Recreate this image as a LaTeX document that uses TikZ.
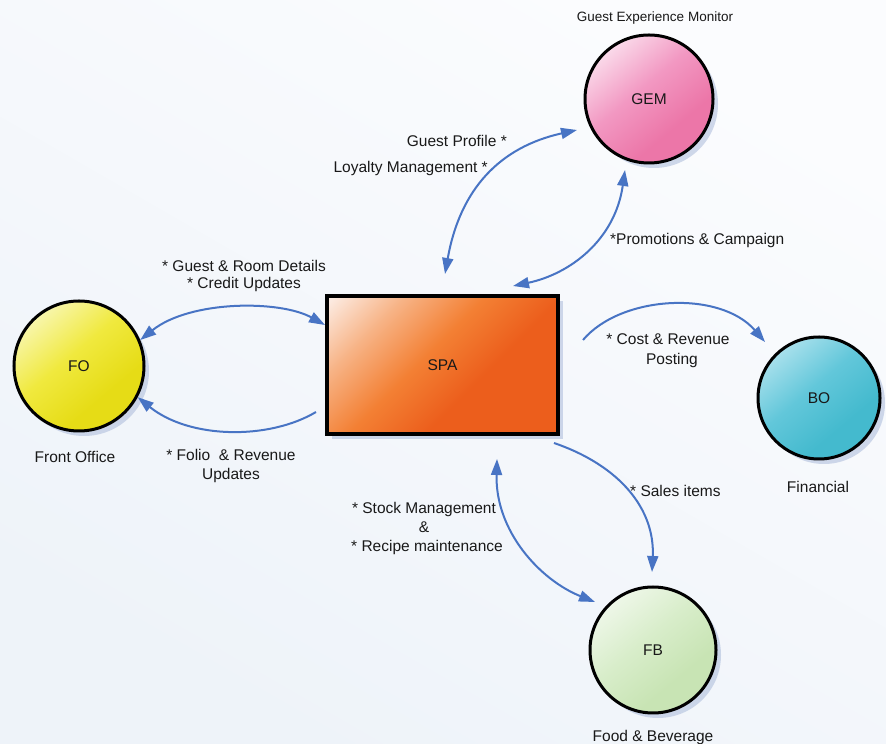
\documentclass[tikz,border=0pt]{standalone}
\usepackage{fontspec}
\setmainfont{Liberation Sans}
\usetikzlibrary{arrows.meta,shadows}
\definecolor{arrowblue}{RGB}{72,116,196}
\definecolor{txt}{RGB}{25,25,25}
\definecolor{bgtop}{RGB}{251,252,254}
\definecolor{bgbot}{RGB}{238,243,249}
\definecolor{shadowc}{RGB}{170,186,218}
\definecolor{gemD}{RGB}{236,118,168}
\definecolor{gemM}{RGB}{242,152,194}
\definecolor{gemL}{RGB}{250,218,234}
\definecolor{foD}{RGB}{230,220,22}
\definecolor{foM}{RGB}{240,233,62}
\definecolor{foL}{RGB}{248,246,172}
\definecolor{boD}{RGB}{68,186,206}
\definecolor{boM}{RGB}{98,199,218}
\definecolor{boL}{RGB}{168,224,236}
\definecolor{fbD}{RGB}{200,228,180}
\definecolor{fbM}{RGB}{216,237,202}
\definecolor{fbL}{RGB}{238,247,232}
\definecolor{spaD}{RGB}{236,94,28}
\definecolor{spaM}{RGB}{243,128,52}
\definecolor{spaL}{RGB}{247,178,132}
\definecolor{spaW}{RGB}{252,234,224}
\pgfdeclareverticalshading{gemsh}{100bp}{color(0bp)=(gemD); color(35bp)=(gemD); color(55bp)=(gemM); color(75bp)=(gemL); color(100bp)=(gemL)}
\pgfdeclareverticalshading{fosh}{100bp}{color(0bp)=(foD); color(35bp)=(foD); color(55bp)=(foM); color(75bp)=(foL); color(100bp)=(foL)}
\pgfdeclareverticalshading{bosh}{100bp}{color(0bp)=(boD); color(35bp)=(boD); color(55bp)=(boM); color(75bp)=(boL); color(100bp)=(boL)}
\pgfdeclareverticalshading{fbsh}{100bp}{color(0bp)=(fbD); color(35bp)=(fbD); color(55bp)=(fbM); color(75bp)=(fbL); color(100bp)=(fbL)}
\pgfdeclareverticalshading{spash}{100bp}{color(0bp)=(spaD); color(40bp)=(spaD); color(55bp)=(spaM); color(70bp)=(spaL); color(84bp)=(spaW); color(100bp)=(spaW)}
\begin{document}
\begin{tikzpicture}[x=1pt,y=1pt,
  >={Triangle[length=16pt,width=11pt]},
  lbl/.style={font=\fontsize{15.5}{19}\selectfont, text=txt, inner sep=0pt, align=center},
  small/.style={font=\fontsize{13.5}{16}\selectfont, text=txt, inner sep=0pt},
  shadowed/.style={drop shadow={shadow xshift=5pt,shadow yshift=-5pt,fill=shadowc,opacity=0.55}},
  bubble/.style={circle, draw=black, line width=3pt, minimum size=#1, inner sep=0pt,
    font=\fontsize{15.5}{19}\selectfont, text=txt, shadowed},
  conn/.style={draw=arrowblue, line width=2pt}]
\useasboundingbox (0,0) rectangle (886,744);
\shade[top color=bgtop, bottom color=bgbot, shading angle=-30] (0,0) rectangle (886,744);

% nodes
\node[draw=black, line width=4pt, minimum width=231pt, minimum height=138pt, inner sep=0pt,
  shading=spash, shading angle=45,
  font=\fontsize{15.5}{19}\selectfont, text=txt, shadowed] (SPA) at (442.5,379) {SPA};
\node[bubble=128pt, shading=gemsh, shading angle=40] (GEM) at (649,645) {GEM};
\node[bubble=130pt, shading=fosh, shading angle=40] (FO) at (79,378) {FO};
\node[bubble=122pt, shading=bosh, shading angle=40] (BO) at (819,346) {BO};
\node[bubble=126pt, shading=fbsh, shading angle=40] (FB) at (653,94) {FB};

% captions
\node[small] (capGEM) at (655,726) {Guest Experience Monitor};
\node[lbl] (capFO) at (75,287) {Front Office};
\node[lbl] (capBO) at (818,257) {Financial};
\node[lbl] (capFB) at (653,7) {Food \& Beverage};

% labels
\node[lbl, anchor=east] (l1) at (507,603) {Guest Profile *};
\node[lbl, anchor=east] (l2) at (488,575) {Loyalty Management *};
\node[lbl, anchor=west] (l3) at (610,504) {*Promotions \& Campaign};
\node[lbl, align=center] (l4) at (244,468.5) {* Guest \& Room Details\\[-2pt]* Credit Updates};
\node[lbl, align=center] (l5) at (668,393) {* Cost \& Revenue\\[1pt]\hspace*{8pt}Posting};
\node[lbl, align=center] (l6) at (231,278) {* Folio\ \ \& Revenue\\Updates};
\node[lbl, anchor=west] (l7) at (630,253) {* Sales items};
\node[lbl, align=center] (l8) at (424,216) {* Stock Management\\\&\\\hspace*{6pt}* Recipe maintenance};

% connectors
\draw[conn,<->] (FO.23) .. controls +(50,40) and +(-45,25) .. ([yshift=40pt]SPA.west);
\draw[conn,->] ([xshift=-9pt,yshift=-47pt]SPA.west) .. controls +(-47,-28) and +(52,-42) .. (FO.-28);
\draw[conn,<->] ([xshift=2.5pt,yshift=20pt]SPA.north) .. controls +(15,85) and +(-77,-17) .. ([xshift=-72pt,yshift=-31pt]GEM.center);
\draw[conn,<->] ([xshift=70.5pt,yshift=8pt]SPA.north) .. controls +(57,12) and +(-10,-70) .. ([xshift=-24pt,yshift=-71pt]GEM.center);
\draw[conn,->] ([xshift=23pt,yshift=25pt]SPA.east) .. controls +(38,45) and +(-45,52) .. ([xshift=-54pt,yshift=56pt]BO.center);
\draw[conn,->] ([xshift=-6pt,yshift=-7pt]SPA.south east) .. controls +(67,-23) and +(3,62) .. ([xshift=-1pt,yshift=78pt]FB.center);
\draw[conn,<->] ([xshift=54.5pt,yshift=-23pt]SPA.south) .. controls +(-2,-72) and +(-55,22) .. ([xshift=-58pt,yshift=48pt]FB.center);
\end{tikzpicture}
\end{document}
